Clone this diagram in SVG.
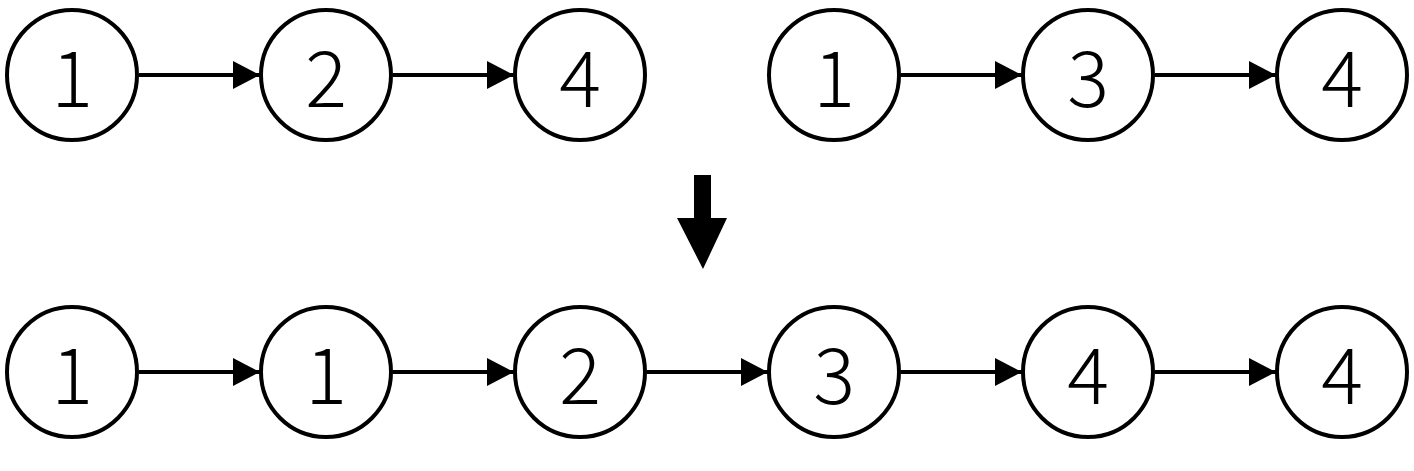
<svg xmlns="http://www.w3.org/2000/svg" width="1414" height="471" viewBox="0 0 1414 471">
<style>
.n circle{fill:#fff;stroke:#000;stroke-width:4}
.n text{font-family:"Noto Sans CJK SC","Noto Sans",sans-serif;font-weight:300;font-size:78px;text-anchor:middle;fill:#000}
.e{stroke:#000;stroke-width:4;fill:none;marker-end:url(#ah)}
</style>
<defs>
<marker id="ah" markerUnits="userSpaceOnUse" markerWidth="28" markerHeight="30" refX="27" refY="14" orient="auto">
<path d="M0,0 L27,14 L0,28 Z" fill="#000"/>
</marker>
</defs>
<rect width="1414" height="471" fill="#fff"/>
<g id="connectors">
<line class="e" x1="139" y1="75" x2="260" y2="75"/>
<line class="e" x1="393" y1="75" x2="514" y2="75"/>
<line class="e" x1="901" y1="75" x2="1022" y2="75"/>
<line class="e" x1="1155" y1="75" x2="1276" y2="75"/>
<line class="e" x1="139" y1="372" x2="260" y2="372"/>
<line class="e" x1="393" y1="372" x2="514" y2="372"/>
<line class="e" x1="647" y1="372" x2="768" y2="372"/>
<line class="e" x1="901" y1="372" x2="1022" y2="372"/>
<line class="e" x1="1155" y1="372" x2="1276" y2="372"/>
<path id="merge-arrow" d="M694,175 H711 V218 H727 L703,269 L677,218 H694 Z" fill="#000"/>
</g>
<g id="a1" class="n"><circle cx="72" cy="75" r="65"/><text x="72" y="107">1</text></g>
<g id="a2" class="n"><circle cx="326" cy="75" r="65"/><text x="326" y="107">2</text></g>
<g id="a4" class="n"><circle cx="580" cy="75" r="65"/><text x="580" y="107">4</text></g>
<g id="b1" class="n"><circle cx="834" cy="75" r="65"/><text x="834" y="107">1</text></g>
<g id="b3" class="n"><circle cx="1088" cy="75" r="65"/><text x="1088" y="107">3</text></g>
<g id="b4" class="n"><circle cx="1342" cy="75" r="65"/><text x="1342" y="107">4</text></g>
<g id="c1" class="n"><circle cx="72" cy="372" r="65"/><text x="72" y="404">1</text></g>
<g id="c2" class="n"><circle cx="326" cy="372" r="65"/><text x="326" y="404">1</text></g>
<g id="c3" class="n"><circle cx="580" cy="372" r="65"/><text x="580" y="404">2</text></g>
<g id="c4" class="n"><circle cx="834" cy="372" r="65"/><text x="834" y="404">3</text></g>
<g id="c5" class="n"><circle cx="1088" cy="372" r="65"/><text x="1088" y="404">4</text></g>
<g id="c6" class="n"><circle cx="1342" cy="372" r="65"/><text x="1342" y="404">4</text></g>
</svg>
